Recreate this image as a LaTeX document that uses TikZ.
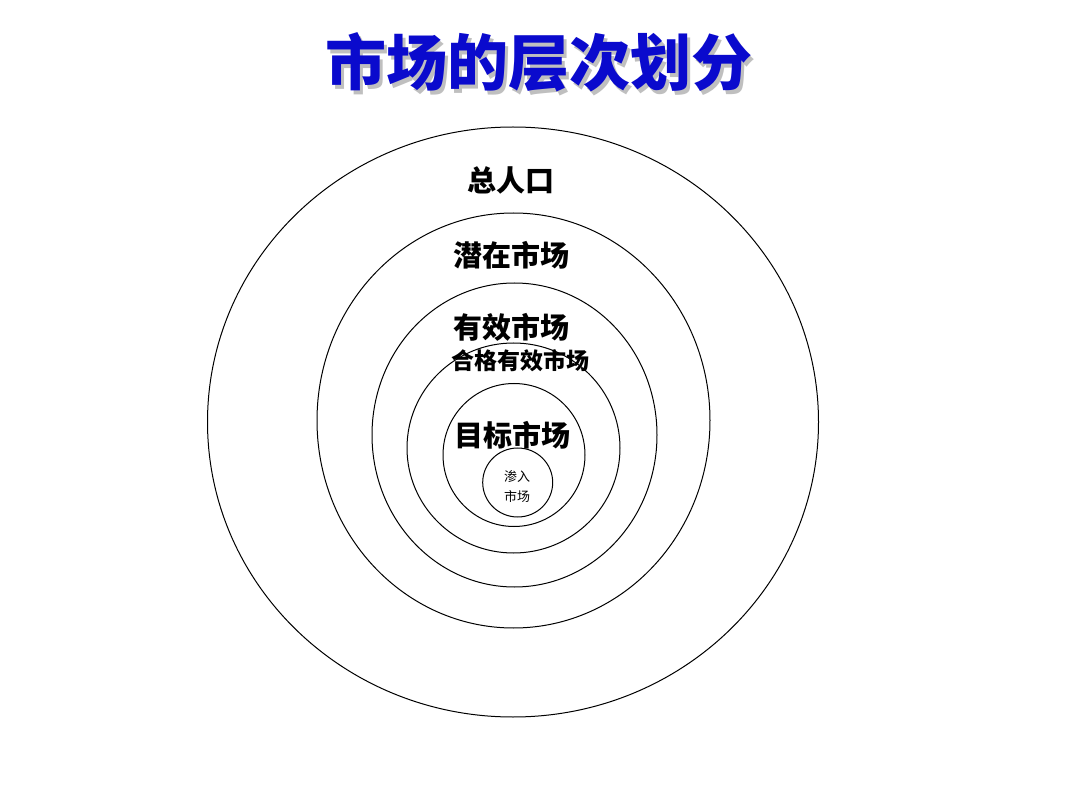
\documentclass[tikz,border=0pt]{standalone}
\usepackage{fontspec}
\newfontfamily\cjk{Noto Sans CJK SC}
\definecolor{titleblue}{RGB}{10,10,205}
\newcommand{\shadowtext}[1]{\makebox[0pt][l]{\raisebox{-4pt}{\hspace{3pt}\textcolor{gray!50}{#1}}}\textcolor{titleblue}{#1}}
\begin{document}
\begin{tikzpicture}[x=1pt,y=-1pt,
	ring/.style={draw,line width=1pt},
	label/.style={inner sep=0pt,font=\cjk\bfseries\fontsize{29}{29}\selectfont}]
	\useasboundingbox[fill=white] (0,0) rectangle (1080,810);
	
	% title with shadow
	\node[inner sep=0pt,font=\cjk\bfseries\fontsize{61}{61}\selectfont] (title) at (539,64) {\shadowtext{市场的层次划分}};
	
	% nested rings
	\foreach \cx/\cy/\rx/\ry in {513/422/305.5/295, 513.5/420.5/196.5/207.5, 514.5/435/142.5/152,
		513.5/448/106.5/105, 514/455/71/71.5, 517.7/482.5/35/34.5} {
		\draw[ring] (\cx,\cy) ellipse [x radius=\rx, y radius=\ry];
	}
	
	\node[label] (total) at (511,180) {总人口};
	\node[label] (potential) at (511,255) {潜在市场};
	\node[label] (effective) at (511,327) {有效市场};
	\node[label,font=\cjk\bfseries\fontsize{23}{23}\selectfont] (qualified) at (520,361) {合格有效市场};
	\node[label] (target) at (512,435) {目标市场};
	\node[inner sep=0pt,align=center,font=\cjk\fontsize{13}{20}\selectfont] (penetrated) at (517,487) {渗入\\市场};
\end{tikzpicture}
\end{document}
